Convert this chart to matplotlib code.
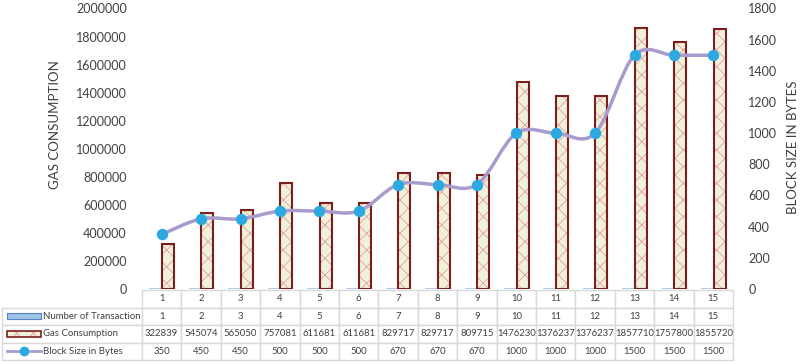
import numpy as np
import matplotlib
matplotlib.use('Agg')
import matplotlib.pyplot as plt
from matplotlib.path import Path
from matplotlib.patches import PathPatch, Rectangle
from matplotlib.lines import Line2D
from matplotlib.ticker import FuncFormatter

categories = [str(i) for i in range(1, 16)]
num_transactions = [1, 2, 3, 4, 5, 6, 7, 8, 9, 10, 11, 12, 13, 14, 15]
gas_consumption = [322839, 545074, 565050, 757081, 611681, 611681, 829717, 829717,
                   809715, 1476230, 1376237, 1376237, 1857710, 1757800, 1855720]
block_size = [350, 450, 450, 500, 500, 500, 670, 670, 670, 1000, 1000, 1000, 1500, 1500, 1500]
row_labels = ['Number of Transaction', 'Gas Consumption', 'Block Size in Bytes']
left_ticks = list(range(0, 2000001, 200000))
right_ticks = list(range(0, 1801, 200))

plt.rcParams['font.family'] = ['Lato', 'DejaVu Sans']
plt.rcParams['hatch.linewidth'] = 0.6

TXT = '#404040'
CREAM = '#EFF1DA'
MAROON = '#7B1E1E'
HATCH = '#E2A0A0'
BLUE_BAR = '#9DC3E6'
LINE = '#A99BCE'
MARK = '#2CA9E1'

W, H = 800, 364
fig = plt.figure(figsize=(W / 100, H / 100), dpi=100)
ax_l, ax_r, ax_t, ax_b = 142, 733, 8.5, 289
ax = fig.add_axes([ax_l / W, 1 - ax_b / H, (ax_r - ax_l) / W, (ax_b - ax_t) / H])
ax2 = ax.twinx()

x = np.arange(len(categories))
bw = 0.3
ax.bar(x - 0.16, num_transactions, bw, color=BLUE_BAR, edgecolor=BLUE_BAR, lw=1.2)
ax.bar(x + 0.16, gas_consumption, bw, facecolor=CREAM, edgecolor=HATCH, hatch='xx', lw=0)
ax.bar(x + 0.16, gas_consumption, bw, facecolor='none', edgecolor=MAROON, lw=1.5)

ax.set_xlim(-0.5, len(categories) - 0.5)
ax.set_ylim(0, 2000000)
ax2.set_ylim(0, 1800)
ax.set_xticks([])
ax.set_yticks(left_ticks)
ax2.set_yticks(right_ticks)
fmt = FuncFormatter(lambda v, p: '%d' % v)
ax.yaxis.set_major_formatter(fmt)
ax2.yaxis.set_major_formatter(fmt)
ax.tick_params(axis='y', length=0, pad=11, labelsize=9, labelcolor=TXT)
ax2.tick_params(axis='y', length=0, pad=11, labelsize=9, labelcolor=TXT)
for a in (ax, ax2):
    for s in a.spines.values():
        s.set_visible(False)

ax.set_ylabel('GAS CONSUMPTION', fontsize=9.5, color=TXT)
ax.yaxis.set_label_coords((61 - ax_l) / (ax_r - ax_l), 0.585)
ax2.set_ylabel('BLOCK SIZE IN BYTES', fontsize=9.5, color=TXT)
ax2.yaxis.set_label_coords((787 - ax_l) / (ax_r - ax_l), 0.506)

# smoothed line (Catmull-Rom as cubic Bezier)
pts = np.column_stack([x, block_size]).astype(float)
P = np.vstack([pts[0], pts, pts[-1]])
verts = [tuple(pts[0])]
codes = [Path.MOVETO]
for i in range(len(pts) - 1):
    p0, p1, p2, p3 = P[i], P[i + 1], P[i + 2], P[i + 3]
    c1 = p1 + (p2 - p0) / 6
    c2 = p2 - (p3 - p1) / 6
    verts += [tuple(c1), tuple(c2), tuple(p2)]
    codes += [Path.CURVE4] * 3
ax2.add_patch(PathPatch(Path(verts, codes), facecolor='none', edgecolor=LINE, lw=2.5,
                        capstyle='round', joinstyle='round', zorder=2))
ax2.plot(x, block_size, 'o', color=MARK, ms=7.2, mec=MARK, zorder=3)

# data table
cell_rows = [categories,
             [str(v) for v in num_transactions],
             [str(v) for v in gas_consumption],
             [str(v) for v in block_size]]
labels = [''] + row_labels
full = [[lab] + row for lab, row in zip(labels, cell_rows)]
tb_l, tb_r, tb_t, tb_b = 2, 733, 290, 360
aw = ax_r - ax_l
ah = ax_b - ax_t
label_w = ax_l - tb_l
col_w = [label_w] + [aw / 15] * 15
tot = sum(col_w)
tbl = ax.table(cellText=full, colWidths=[c / tot for c in col_w], cellLoc='center',
               bbox=[(tb_l - ax_l) / aw, (ax_b - tb_b) / ah, (tb_r - tb_l) / aw, (tb_b - tb_t) / ah])
tbl.auto_set_font_size(False)
tbl.set_fontsize(6.9)
for (r, c), cell in tbl.get_celld().items():
    cell.set_edgecolor('#D9D9D9')
    cell.set_linewidth(1)
    cell.get_text().set_color(TXT)
    if c == 0:
        if r == 0:
            cell.visible_edges = 'open'
        else:
            cell.PAD = 41 / label_w
            cell.get_text().set_ha('left')

# legend keys inside label cells
def fx(px):
    return px / W

def fy(py):
    return 1 - py / H

row_h = (tb_b - tb_t) / 4
yc = [tb_t + row_h * (k + 1.5) for k in range(3)]
kx0, kx1, kh = 7, 41, 6
fig.add_artist(Rectangle((fx(kx0), fy(yc[0] + kh / 2)), fx(kx1 - kx0), kh / H,
                         transform=fig.transFigure, facecolor=BLUE_BAR, edgecolor='#5B82C4', lw=0.8))
fig.add_artist(Rectangle((fx(kx0), fy(yc[1] + kh / 2)), fx(kx1 - kx0), kh / H,
                         transform=fig.transFigure, facecolor=CREAM, edgecolor=HATCH, hatch='xx', lw=0))
fig.add_artist(Rectangle((fx(kx0), fy(yc[1] + kh / 2)), fx(kx1 - kx0), kh / H,
                         transform=fig.transFigure, facecolor='none', edgecolor=MAROON, lw=1.2))
fig.add_artist(Line2D([fx(kx0), fx(kx1)], [fy(yc[2]), fy(yc[2])], transform=fig.transFigure,
                      color=LINE, lw=2))
fig.add_artist(Line2D([fx((kx0 + kx1) / 2)], [fy(yc[2])], transform=fig.transFigure,
                      marker='o', color=MARK, ms=6, mec=MARK))

fig.savefig('out.png', dpi=100)
